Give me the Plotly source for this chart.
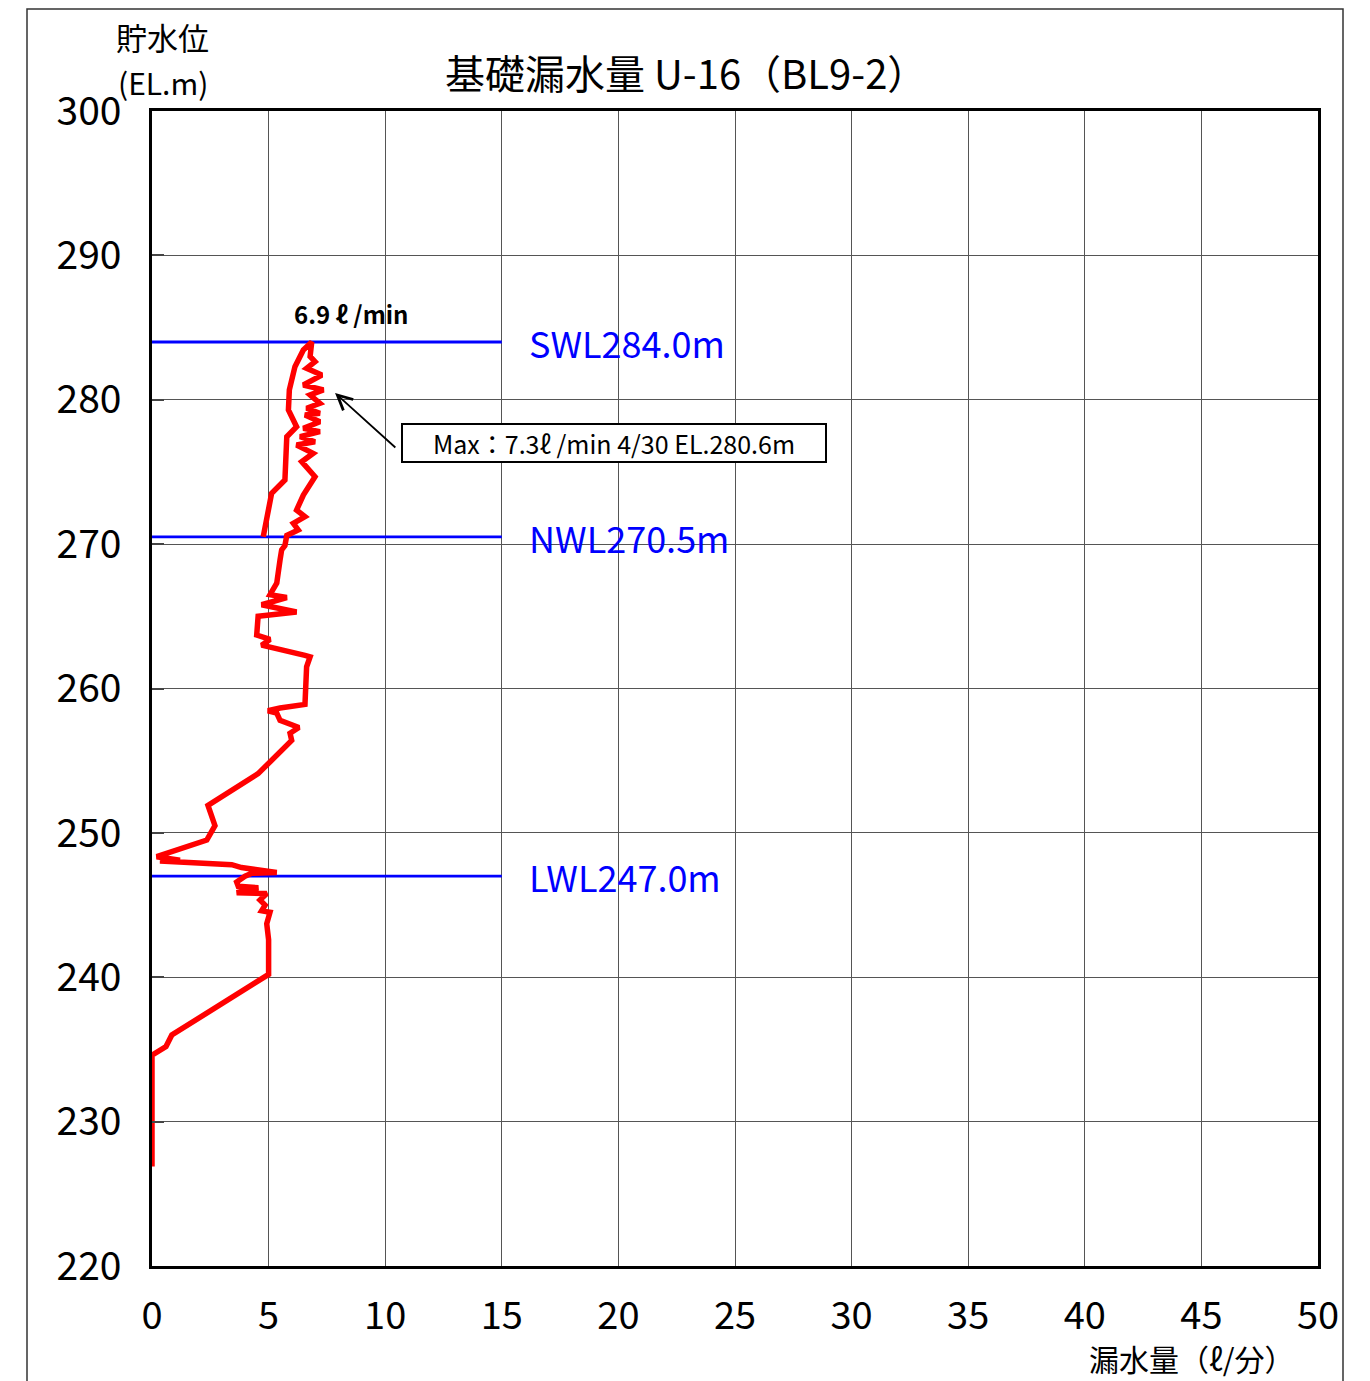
import plotly.graph_objects as go

# Leakage curve (l/min) vs reservoir water level (EL.m), in time order
leak = [0.0, 0.0, 0.6, 0.85, 5.0, 5.0, 4.92, 5.06, 4.70, 4.85, 4.63, 4.92, 3.63, 4.56, 3.70, 3.63,
        3.99, 4.28, 5.35, 3.84, 3.42, 1.56, 0.48, 0.34, 1.2, 0.20, 2.35, 2.70, 2.40, 4.55,
        5.99, 5.92, 6.30, 5.49, 5.35, 4.97, 5.49, 6.56, 6.63, 6.78, 6.56, 5.06, 4.70, 5.06, 4.49,
        4.55, 6.20, 4.70, 5.78, 5.06, 5.35, 5.49, 5.56, 5.70, 5.78,
        6.27, 6.06, 6.56, 6.20, 6.49, 6.99, 6.42, 6.91, 6.20, 6.99, 6.35, 7.20, 6.49, 7.20, 6.56,
        7.20, 6.63, 7.20, 6.78, 7.35, 6.49, 7.28, 6.63, 6.99, 6.78, 6.85,
        6.49, 6.13, 5.89, 5.85, 6.20, 5.78, 5.70, 5.13, 4.77]
level = [226.9, 234.6, 235.2, 236.0, 240.2, 242.6, 243.7, 244.5, 244.6, 245.0, 245.35, 245.8, 245.85, 246.2, 246.3, 246.6,
         247.0, 247.2, 247.25, 247.6, 247.8, 247.9, 247.95, 248.05, 248.1, 248.35, 249.5, 250.5, 251.9, 254.1,
         256.4, 256.9, 257.3, 257.8, 258.3, 258.46, 258.65, 258.9, 261.5, 262.2, 262.3, 262.9, 263.0, 263.4, 263.7,
         265.0, 265.3, 265.8, 266.3, 266.5, 267.3, 268.9, 269.6, 269.9, 270.6,
         270.98, 271.44, 271.90, 272.36, 273.40, 274.67, 275.71, 276.29, 276.87, 277.09, 277.44, 277.79, 278.02, 278.48, 278.94,
         279.06, 279.41, 279.75, 280.33, 280.68, 281.02, 281.71, 282.18, 282.64, 283.0, 284.0,
         283.45, 282.29, 280.68, 279.29, 278.13, 277.44, 274.44, 273.52, 270.51]

# Reference water levels
ref_names = ["SWL284.0m", "NWL270.5m", "LWL247.0m"]
ref_levels = [284.0, 270.5, 247.0]
ref_x_end = 15

x_ticks = [0, 5, 10, 15, 20, 25, 30, 35, 40, 45, 50]
y_ticks = [220, 230, 240, 250, 260, 270, 280, 290, 300]

NUM_FONT = "Noto Sans CJK JP, sans-serif"
JP_FONT = "Noto Sans CJK JP, sans-serif"

fig = go.Figure()
for name, lv in zip(ref_names, ref_levels):
    fig.add_trace(go.Scatter(x=[0, ref_x_end], y=[lv, lv], mode="lines",
                             line=dict(color="#0000ff", width=2.8), showlegend=False, hoverinfo="skip"))
    fig.add_annotation(x=16.1, y=lv, text=name, showarrow=False, xanchor="left", yanchor="middle",
                       font=dict(family=NUM_FONT, size=36, color="#0000ff"))

fig.add_trace(go.Scatter(x=leak, y=level, mode="lines", line=dict(color="#ff0000", width=5.5),
                         showlegend=False))

# Annotations
fig.add_annotation(x=8.53, y=286.0, text="<b>6.9 ℓ /min</b>", showarrow=False,
                   font=dict(family=NUM_FONT, size=24, color="black"))
fig.add_annotation(x=19.81, y=277.0, text="Max：7.3ℓ /min 4/30 EL.280.6m", showarrow=False,
                   font=dict(family=NUM_FONT, size=25, color="black"),
                   bordercolor="black", borderwidth=2, borderpad=2, width=418, height=32,
                   bgcolor="white")
fig.add_annotation(x=7.85, y=280.47, ax=10.5, ay=276.6, axref="x", ayref="y", xref="x", yref="y",
                   text="", showarrow=True, arrowhead=5, arrowsize=1.6, arrowwidth=1.8, arrowcolor="black")

# Titles
fig.add_annotation(xref="paper", yref="paper", x=(686 - 152) / 1166, y=(1266 - 72) / 1155,
                   text="基礎漏水量 U-16（BL9-2）", showarrow=False, xanchor="center", yanchor="middle",
                   font=dict(family=JP_FONT, size=40, color="black"))
fig.add_annotation(xref="paper", yref="paper", x=(162 - 152) / 1166, y=(1266 - 36) / 1155,
                   text="貯水位", showarrow=False, xanchor="center", yanchor="middle",
                   font=dict(family=JP_FONT, size=31, color="black"))
fig.add_annotation(xref="paper", yref="paper", x=(163 - 152) / 1166, y=(1266 - 82) / 1155,
                   text="(EL.m)", showarrow=False, xanchor="center", yanchor="middle",
                   font=dict(family=NUM_FONT, size=30, color="black"))
fig.add_annotation(xref="paper", yref="paper", x=(1191 - 152) / 1166, y=(1266 - 1358) / 1155,
                   text="漏水量（ℓ/分）", showarrow=False, xanchor="center", yanchor="middle",
                   font=dict(family=JP_FONT, size=30, color="black"))

# Outer frame
fig.add_shape(type="rect", xref="paper", yref="paper",
              x0=(27 - 152) / 1166, x1=(1343 - 152) / 1166,
              y0=(1266 - 1400) / 1155, y1=(1266 - 9) / 1155,
              line=dict(color="#333333", width=1.5), layer="below")

fig.update_xaxes(range=[0, 50], tickvals=x_ticks, ticktext=[str(v) for v in x_ticks],
                 showgrid=True, gridcolor="#555555", gridwidth=1,
                 showline=True, linecolor="black", linewidth=2.5, mirror=True,
                 ticks="", zeroline=False, ticklabelstandoff=15,
                 tickfont=dict(family=NUM_FONT, size=38, color="black"))
fig.update_yaxes(range=[220, 300], tickvals=y_ticks, ticktext=[str(v) for v in y_ticks],
                 showgrid=True, gridcolor="#555555", gridwidth=1,
                 showline=True, linecolor="black", linewidth=2.5, mirror=True,
                 ticks="inside", ticklen=12, tickwidth=2, tickcolor="#444444",
                 zeroline=False, ticklabelstandoff=20,
                 tickfont=dict(family=NUM_FONT, size=39, color="black"))

fig.update_layout(width=1370, height=1381, margin=dict(l=152, r=52, t=111, b=115),
                  plot_bgcolor="white", paper_bgcolor="white", showlegend=False)

fig.write_html("out.html")
